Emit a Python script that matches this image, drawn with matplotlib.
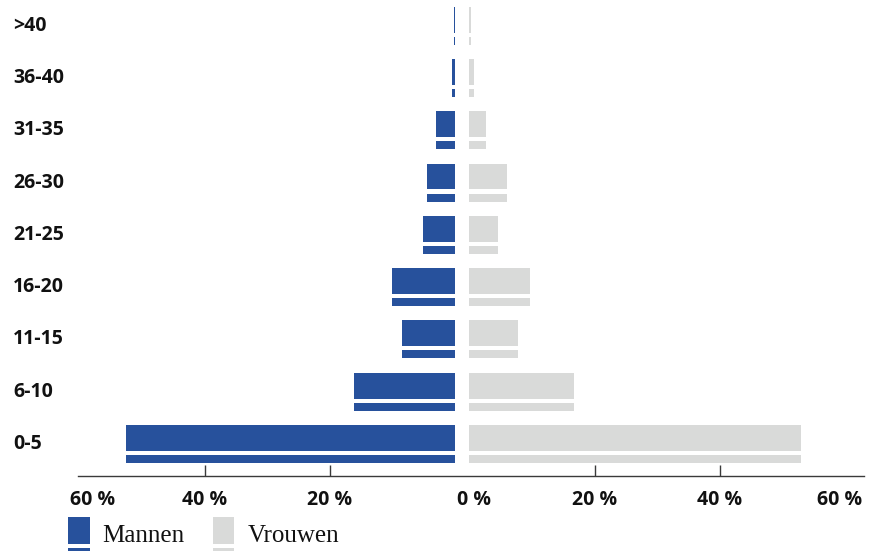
import matplotlib
matplotlib.use("Agg")
import matplotlib.pyplot as plt
from matplotlib.patches import Rectangle
from matplotlib.transforms import blended_transform_factory

# ---- data ----
categories = ["0-5", "6-10", "11-15", "16-20", "21-25", "26-30", "31-35", "36-40", ">40"]
mannen = [52.6, 16.1, 8.5, 10.1, 5.1, 4.5, 3.0, 0.5, 0.2]
vrouwen = [52.9, 16.7, 7.7, 9.7, 4.6, 6.0, 2.6, 0.7, 0.2]
tick_values = [60, 40, 20, 0, 20, 40, 60]
tick_labels = ["60 %", "40 %", "20 %", "0 %", "20 %", "40 %", "60 %"]
legend_labels = ["Mannen", "Vrouwen"]

BLUE = "#27519c"
GRAY = "#d9dad9"
GAP = 1.16  # half gap between the two halves (in % units)

W, H = 876, 551
fig = plt.figure(figsize=(W / 100, H / 100), dpi=100)
ax = fig.add_axes([78 / W, (H - 476) / H, (864 - 78) / W, 476 / H])

y = list(range(len(categories)))
main_off, main_h = 0.115, 0.497
thin_off, thin_h = -0.287, 0.153

for yi, m, v in zip(y, mannen, vrouwen):
    for off, h in ((main_off, main_h), (thin_off, thin_h)):
        ax.barh(yi + off, m, left=-GAP - m, height=h, color=BLUE, linewidth=0)
        ax.barh(yi + off, v, left=GAP, height=h, color=GRAY, linewidth=0)

ax.set_xlim(-61.38, 64.18)
ax.set_ylim(-0.612, 8.49)

for s in ["top", "left", "right"]:
    ax.spines[s].set_visible(False)
ax.spines["bottom"].set_color("#3a3a3a")
ax.spines["bottom"].set_linewidth(1.0)
ax.set_yticks([])

# tick marks at +-20, +-40
major = [-(GAP + 40), -(GAP + 20), GAP + 20, GAP + 40]
ax.set_xticks(major)
ax.set_xticklabels([])
ax.tick_params(axis="x", which="major", direction="in", length=7.7, width=1.0, color="#3a3a3a")

# tick labels (end labels nudged inwards as in the reference)
label_pos = [-59.0, -(GAP + 40), -(GAP + 20), 1.88, GAP + 20, GAP + 40, 60.2]
for xp, lab in zip(label_pos, tick_labels):
    ax.text(xp, -0.612 - 0.26, lab, transform=ax.transData, ha="center", va="top",
            fontsize=14, fontweight="bold", family="Open Sans", color="#111111",
            clip_on=False)

# category labels
trans = blended_transform_factory(fig.transFigure, ax.transData)
for yi, c in zip(y, categories):
    ax.text(13 / W, yi, c, transform=trans, ha="left", va="center",
            fontsize=14, fontweight="bold", family="Open Sans", color="#111111")

# legend (bar-like swatches, cut at the bottom edge)
def fy(py):
    return 1 - py / H

for x0, col, lab, tx in ((68.3, BLUE, legend_labels[0], 102), (212.7, GRAY, legend_labels[1], 247.7)):
    fig.patches.append(Rectangle((x0 / W, fy(544)), 21.7 / W, 27.3 / H,
                                 transform=fig.transFigure, color=col, linewidth=0))
    fig.patches.append(Rectangle((x0 / W, fy(556)), 21.7 / W, 7.7 / H,
                                 transform=fig.transFigure, color=col, linewidth=0))
    fig.text(tx / W, fy(542.3), lab, ha="left", va="baseline", fontsize=18,
             family="Liberation Serif", color="#111111")

fig.savefig("out.png", dpi=100)
